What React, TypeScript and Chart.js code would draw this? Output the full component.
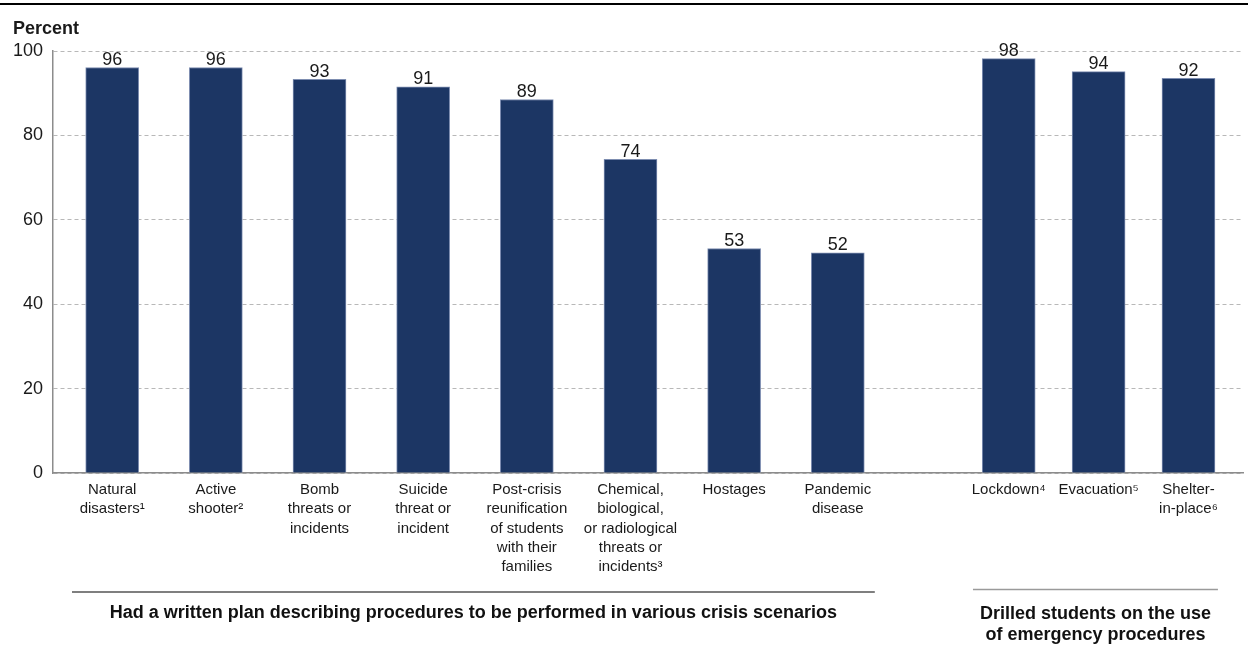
import { useEffect, useRef } from "react";
import { Chart, registerables } from "chart.js";

Chart.register(...registerables);

const FONT = '"Liberation Sans", Arial, Helvetica, sans-serif';

// ---- data ----
const categories: string[][] = [
  ["Natural", "disasters¹"],
  ["Active", "shooter²"],
  ["Bomb", "threats or", "incidents"],
  ["Suicide", "threat or", "incident"],
  ["Post-crisis", "reunification", "of students", "with their", "families"],
  ["Chemical,", "biological,", "or radiological", "threats or", "incidents³"],
  ["Hostages"],
  ["Pandemic", "disease"],
  ["Lockdown⁴"],
  ["Evacuation⁵"],
  ["Shelter-", "in-place⁶"],
];
const values = [96.1, 96.1, 93.3, 91.5, 88.5, 74.3, 53.2, 52.2, 98.2, 95.1, 93.5];
const valueLabels = ["96", "96", "93", "91", "89", "74", "53", "52", "98", "94", "92"];
const groupOf = [0, 0, 0, 0, 0, 0, 0, 0, 1, 1, 1];
const groupTitles: string[][] = [
  ["Had a written plan describing procedures to be performed in various crisis scenarios"],
  ["Drilled students on the use", "of emergency procedures"],
];
const yTitle = "Percent";

// ---- layout (in x-scale units) ----
const GROUP_START = [0, 8.649];
const GROUP_STEP = [1, 0.867];
const GROUP_SPAN = [
  [-0.388, 7.357],
  [8.304, 10.667],
];
const X_MIN = -0.571;
const X_MAX = 10.909;

function xValue(i: number): number {
  const g = groupOf[i];
  let k = 0;
  for (let j = 0; j < i; j++) if (groupOf[j] === g) k++;
  return GROUP_START[g] + k * GROUP_STEP[g];
}

const decorPlugin = {
  id: "decor",
  afterDatasetsDraw(chart: any) {
    const ctx: CanvasRenderingContext2D = chart.ctx;
    const meta = chart.getDatasetMeta(0);
    ctx.save();
    ctx.font = `18px ${FONT}`;
    ctx.fillStyle = "#1a1a1a";
    ctx.textAlign = "center";
    ctx.textBaseline = "alphabetic";
    meta.data.forEach((bar: any, i: number) => {
      ctx.fillText(valueLabels[i], bar.x, bar.y - 2.5);
    });
    ctx.restore();
  },
  afterDraw(chart: any) {
    const ctx: CanvasRenderingContext2D = chart.ctx;
    const xs = chart.scales.x;
    const area = chart.chartArea;
    ctx.save();
    // top rule
    ctx.fillStyle = "#000";
    ctx.fillRect(0, 3, chart.width, 2);
    // y title
    ctx.font = `bold 18px ${FONT}`;
    ctx.fillStyle = "#1a1a1a";
    ctx.textAlign = "left";
    ctx.textBaseline = "alphabetic";
    ctx.fillText(yTitle, 13, area.top - 17);
    // group underlines and titles
    const lineY = [area.bottom + 119, area.bottom + 116.5];
    const lineCol = ["#555555", "#9a9a9a"];
    const titleY = [area.bottom + 145, area.bottom + 146];
    groupTitles.forEach((lines, g) => {
      const x1 = xs.getPixelForValue(GROUP_SPAN[g][0]);
      const x2 = xs.getPixelForValue(GROUP_SPAN[g][1]);
      ctx.strokeStyle = lineCol[g];
      ctx.lineWidth = 1.5;
      ctx.beginPath();
      ctx.moveTo(x1, lineY[g]);
      ctx.lineTo(x2, lineY[g]);
      ctx.stroke();
      ctx.font = `bold 18px ${FONT}`;
      ctx.fillStyle = "#111";
      ctx.textAlign = "center";
      const cx = (x1 + x2) / 2;
      lines.forEach((t, li) => {
        ctx.fillText(t, cx, titleY[g] + li * 21);
      });
    });
    ctx.restore();
  },
};

export default function App() {
  const ref = useRef<HTMLCanvasElement | null>(null);

  useEffect(() => {
    if (!ref.current) return;
    Chart.defaults.font.family = FONT;
    const chart = new Chart(ref.current, {
      type: "bar",
      data: {
        datasets: [
          {
            data: values.map((v, i) => ({ x: xValue(i), y: v })),
            backgroundColor: "#1c3664",
            borderColor: "#7d8db0",
            borderWidth: 1,
            barThickness: 53,
          } as any,
        ],
      },
      options: {
        animation: false,
        responsive: false,
        events: [],
        layout: { padding: { top: 51, right: 5, left: 0, bottom: 0 } },
        plugins: { legend: { display: false }, tooltip: { enabled: false } },
        scales: {
          x: {
            type: "linear",
            offset: false,
            min: X_MIN,
            max: X_MAX,
            afterBuildTicks: (s: any) => {
              s.ticks = categories.map((_, i) => ({ value: xValue(i) }));
            },
            afterFit: (s: any) => {
              s.height = 181;
            },
            ticks: {
              autoSkip: false,
              maxRotation: 0,
              minRotation: 0,
              padding: 7,
              color: "#1a1a1a",
              font: { size: 15, family: FONT, lineHeight: 1.29 },
              callback: (_v: any, i: number) => categories[i],
            },
            grid: { display: false, drawTicks: false },
            border: { display: true, color: "#8c8c8c", width: 1.5 },
          },
          y: {
            min: 0,
            max: 100,
            afterFit: (s: any) => {
              s.width = 53;
            },
            ticks: {
              stepSize: 20,
              padding: 10,
              color: "#1a1a1a",
              font: { size: 18, family: FONT },
            },
            grid: { color: "#b8b8b8", lineWidth: 1, drawTicks: false },
            border: { display: true, color: "#8c8c8c", width: 1.5, dash: [4, 3] },
          },
        },
      } as any,
      plugins: [decorPlugin],
    });
    return () => chart.destroy();
  }, []);

  return (
    <div style={{ position: "absolute", left: 0, top: 0, width: 1248, height: 654, background: "#fff" }}>
      <canvas ref={ref} width={1248} height={654} style={{ width: 1248, height: 654, display: "block" }} />
    </div>
  );
}
